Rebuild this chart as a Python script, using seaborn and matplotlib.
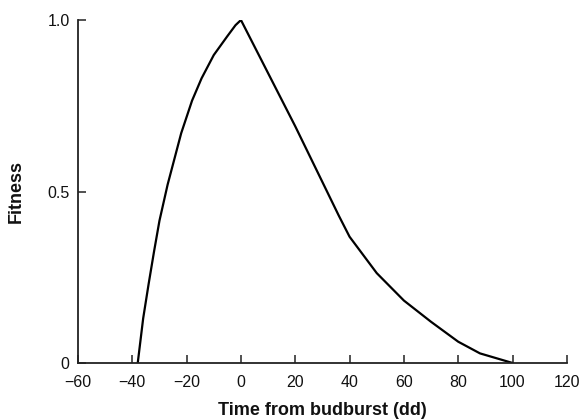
import matplotlib
matplotlib.use("Agg")
import matplotlib.pyplot as plt
import seaborn as sns
import pandas as pd

# Data
time_dd = [-38, -36, -34, -32, -30, -27, -25, -22, -18, -14.5, -10, -5, -2, 0,
           10, 20, 28, 36, 40, 50, 60, 70, 80, 88, 100]
fitness = [0.0, 0.13, 0.23, 0.325, 0.415, 0.52, 0.58, 0.67, 0.765, 0.83, 0.898,
           0.953, 0.985, 1.0,
           0.845, 0.69, 0.56, 0.43, 0.368, 0.262, 0.182, 0.12, 0.062, 0.028, 0.0]

x_ticks = [-60, -40, -20, 0, 20, 40, 60, 80, 100, 120]
y_ticks = [0, 0.5, 1.0]
y_tick_labels = ["0", "0.5", "1.0"]

sns.set_style("ticks")
plt.rcParams["font.family"] = ["Liberation Sans", "DejaVu Sans"]

df = pd.DataFrame({"Time": time_dd, "Fitness": fitness})

fig = plt.figure(figsize=(5.82, 4.19), dpi=100)
ax = fig.add_axes([0.134, 0.1337, 0.840, 0.8185])

sns.lineplot(data=df, x="Time", y="Fitness", ax=ax, color="black",
             linewidth=1.6, sort=False)

ax.set_xlim(-60, 120)
ax.set_ylim(0, 1.0)
ax.set_xticks(x_ticks)
ax.set_yticks(y_ticks)
ax.set_yticklabels(y_tick_labels)

for side in ["top", "right"]:
    ax.spines[side].set_visible(False)
for side in ["left", "bottom"]:
    ax.spines[side].set_color("#222222")
    ax.spines[side].set_linewidth(1.3)

ax.tick_params(axis="both", direction="in", length=6, width=1.1,
               color="#222222", labelsize=11.5, labelcolor="#111111")
ax.tick_params(axis="x", pad=9)
ax.tick_params(axis="y", pad=6)

ax.set_xlabel("Time from budburst (dd)", fontsize=13, fontweight="bold",
              labelpad=8, color="#111111")
ax.set_ylabel("Fitness", fontsize=13, fontweight="bold", labelpad=16,
              color="#111111")

fig.savefig("out.png", dpi=100)
